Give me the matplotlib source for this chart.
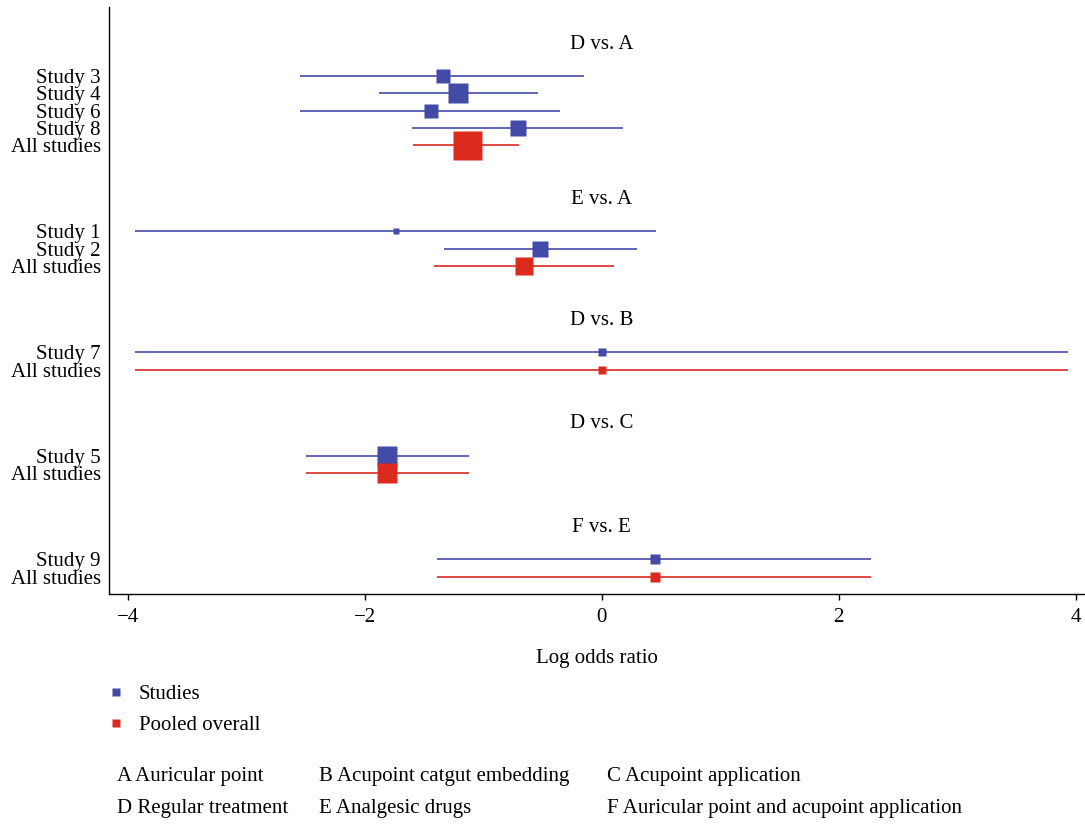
import numpy as np
import matplotlib
matplotlib.use("Agg")
import matplotlib.pyplot as plt
from matplotlib.lines import Line2D

plt.rcParams['font.family'] = ['Liberation Serif', 'DejaVu Serif']
plt.rcParams['axes.unicode_minus'] = True

# comparisons and the rows that belong to each one
comparisons = ["D vs. A", "E vs. A", "D vs. B", "D vs. C", "F vs. E"]
row_labels = [
    ["Study 3", "Study 4", "Study 6", "Study 8", "All studies"],
    ["Study 1", "Study 2", "All studies"],
    ["Study 7", "All studies"],
    ["Study 5", "All studies"],
    ["Study 9", "All studies"],
]
# log odds ratio, lower and upper limits, relative weight
estimates = [
    [-1.34, -1.21, -1.44, -0.71, -1.14],
    [-1.74, -0.52, -0.66],
    [0.0, 0.0],
    [-1.81, -1.81],
    [0.45, 0.45],
]
lower = [
    [-2.55, -1.88, -2.55, -1.60, -1.59],
    [-3.94, -1.33, -1.42],
    [-3.94, -3.94],
    [-2.50, -2.50],
    [-1.39, -1.39],
]
upper = [
    [-0.15, -0.54, -0.35, 0.18, -0.70],
    [0.46, 0.30, 0.10],
    [3.94, 3.94],
    [-1.12, -1.12],
    [2.27, 2.27],
]
weights = [
    [23.3, 47.6, 23.3, 30.4, 100.0],
    [5.8, 30.4, 38.5],
    [7.6, 7.6],
    [47.6, 47.6],
    [11.9, 11.9],
]

treatments = [
    ["A Auricular point", "B Acupoint catgut embedding", "C Acupoint application"],
    ["D Regular treatment", "E Analgesic drugs", "F Auricular point and acupoint application"],
]

BLUE = "#434BA9"
RED = "#DC2A1F"
FS = 15

fig = plt.figure(figsize=(10.85, 8.24), dpi=100)
ax = fig.add_axes([109 / 1085, 1 - 594 / 824, 1 - 109 / 1085, (594 - 7) / 824])

ytick_pos, ytick_lab = [], []
cursor = -2
for g, name in enumerate(comparisons):
    ax.text(0, cursor + 0.15, name, ha="center", va="center", fontsize=FS)
    for i, lab in enumerate(row_labels[g]):
        y = cursor + 2 + i
        pooled = lab == "All studies"
        col = RED if pooled else BLUE
        ax.hlines(y, lower[g][i], upper[g][i], color=col, lw=1.2, zorder=2)
        side = 29 * np.sqrt(weights[g][i] / 100.0)  # square side in pixels
        ax.plot(estimates[g][i], y, marker="s", color=col, mec="none",
                ms=side * 0.72, zorder=3)
        ytick_pos.append(y)
        ytick_lab.append(lab)
    # two blank rows, then the next header
    cursor = cursor + 2 + len(row_labels[g]) + 2

ax.set_ylim(30, -4)
ax.set_xlim(-4.16, 4.08)
ax.set_yticks(ytick_pos)
ax.set_yticklabels(ytick_lab, fontsize=FS)
ax.tick_params(axis="y", length=0, pad=6)
ax.set_xticks([-4, -2, 0, 2, 4])
ax.tick_params(axis="x", length=4, width=1, labelsize=FS, pad=6)
ax.set_xlabel("Log odds ratio", fontsize=FS, labelpad=16)
for s in ["top", "right"]:
    ax.spines[s].set_visible(False)
for s in ["left", "bottom"]:
    ax.spines[s].set_linewidth(1.0)

handles = [Line2D([], [], ls="none", marker="s", ms=6, color=BLUE, mec="none"),
           Line2D([], [], ls="none", marker="s", ms=6, color=RED, mec="none")]
fig.legend(handles, ["Studies", "Pooled overall"], loc="upper left",
           bbox_to_anchor=(87 / 1085, 1 - 666 / 824), frameon=False,
           fontsize=FS, labelspacing=0.55, handletextpad=0.6, handlelength=1.0)

col_x = [117, 319, 607]
row_y = [776, 808]
for r, line in enumerate(treatments):
    for c, txt in enumerate(line):
        fig.text(col_x[c] / 1085, 1 - row_y[r] / 824, txt, fontsize=FS,
                 ha="left", va="center")

fig.savefig("out.png", dpi=100)
